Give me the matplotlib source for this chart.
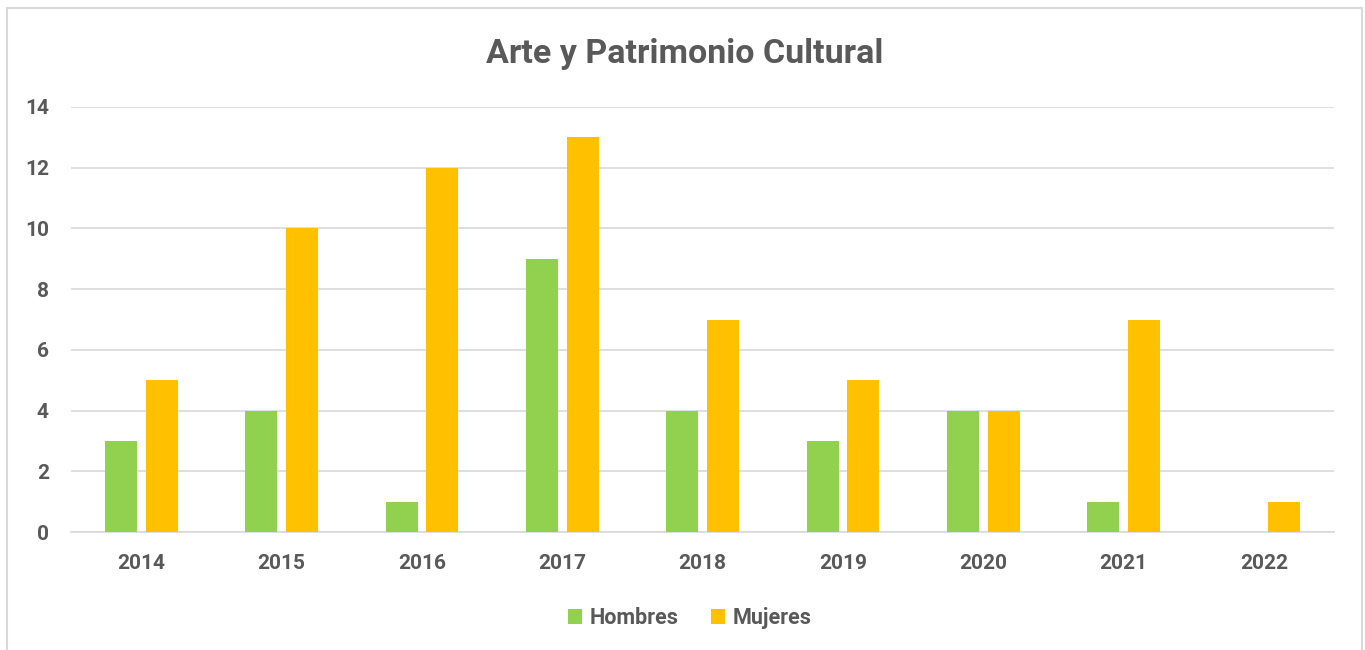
import matplotlib
matplotlib.use("Agg")
import matplotlib.pyplot as plt
import numpy as np
from matplotlib.patches import Rectangle

years = ["2014", "2015", "2016", "2017", "2018", "2019", "2020", "2021", "2022"]
hombres = [3, 4, 1, 9, 4, 3, 4, 1, 0]
mujeres = [5, 10, 12, 13, 7, 5, 4, 7, 1]
yticks = [0, 2, 4, 6, 8, 10, 12, 14]

green = "#92d050"
gold = "#ffc000"
txt = "#595959"
grid = "#d9d9d9"
font = "Roboto"

fig = plt.figure(figsize=(13.65, 6.5), dpi=100)
fig.patches.append(Rectangle((7/1365, -0.05), (1362-7)/1365, 1.05 - 8/650,
                             transform=fig.transFigure, fill=False,
                             edgecolor=grid, linewidth=1.5))
ax = fig.add_axes([71/1365, 1-532/650, (1334-71)/1365, (532-107)/650])

x = np.arange(len(years))
w = 0.228
ax.bar(x - 0.143, hombres, w, color=green, label="Hombres", zorder=3)
ax.bar(x + 0.146, mujeres, w, color=gold, label="Mujeres", zorder=3)

ax.set_xlim(-0.5, len(years) - 0.5)
ax.set_ylim(0, 14)
ax.set_yticks(yticks)
ax.set_yticklabels([str(t) for t in yticks], fontsize=15, fontweight="bold",
                   color=txt, family=font)
ax.set_xticks(x)
ax.set_xticklabels(years, fontsize=15, fontweight="bold", color=txt, family=font)
ax.tick_params(axis="both", length=0)
ax.tick_params(axis="y", pad=16)
ax.tick_params(axis="x", pad=16)
ax.grid(axis="y", color=grid, linewidth=1.2, zorder=0)
for s in ["top", "right", "left"]:
    ax.spines[s].set_visible(False)
ax.spines["bottom"].set_color(grid)
ax.spines["bottom"].set_linewidth(1.2)

fig.text(685/1365, 1-54/650, "Arte y Patrimonio Cultural", ha="center", va="center",
         fontsize=24.5, fontweight="bold", color=txt, family=font)

leg = fig.legend(loc="center", bbox_to_anchor=(690/1365, 1-618/650), ncol=2,
                 frameon=False, handlelength=0.65, handleheight=0.65,
                 columnspacing=1.5, handletextpad=0.35,
                 prop={"family": font, "weight": "bold", "size": 15.5})
for t in leg.get_texts():
    t.set_color(txt)

fig.savefig("out.png", dpi=100)
